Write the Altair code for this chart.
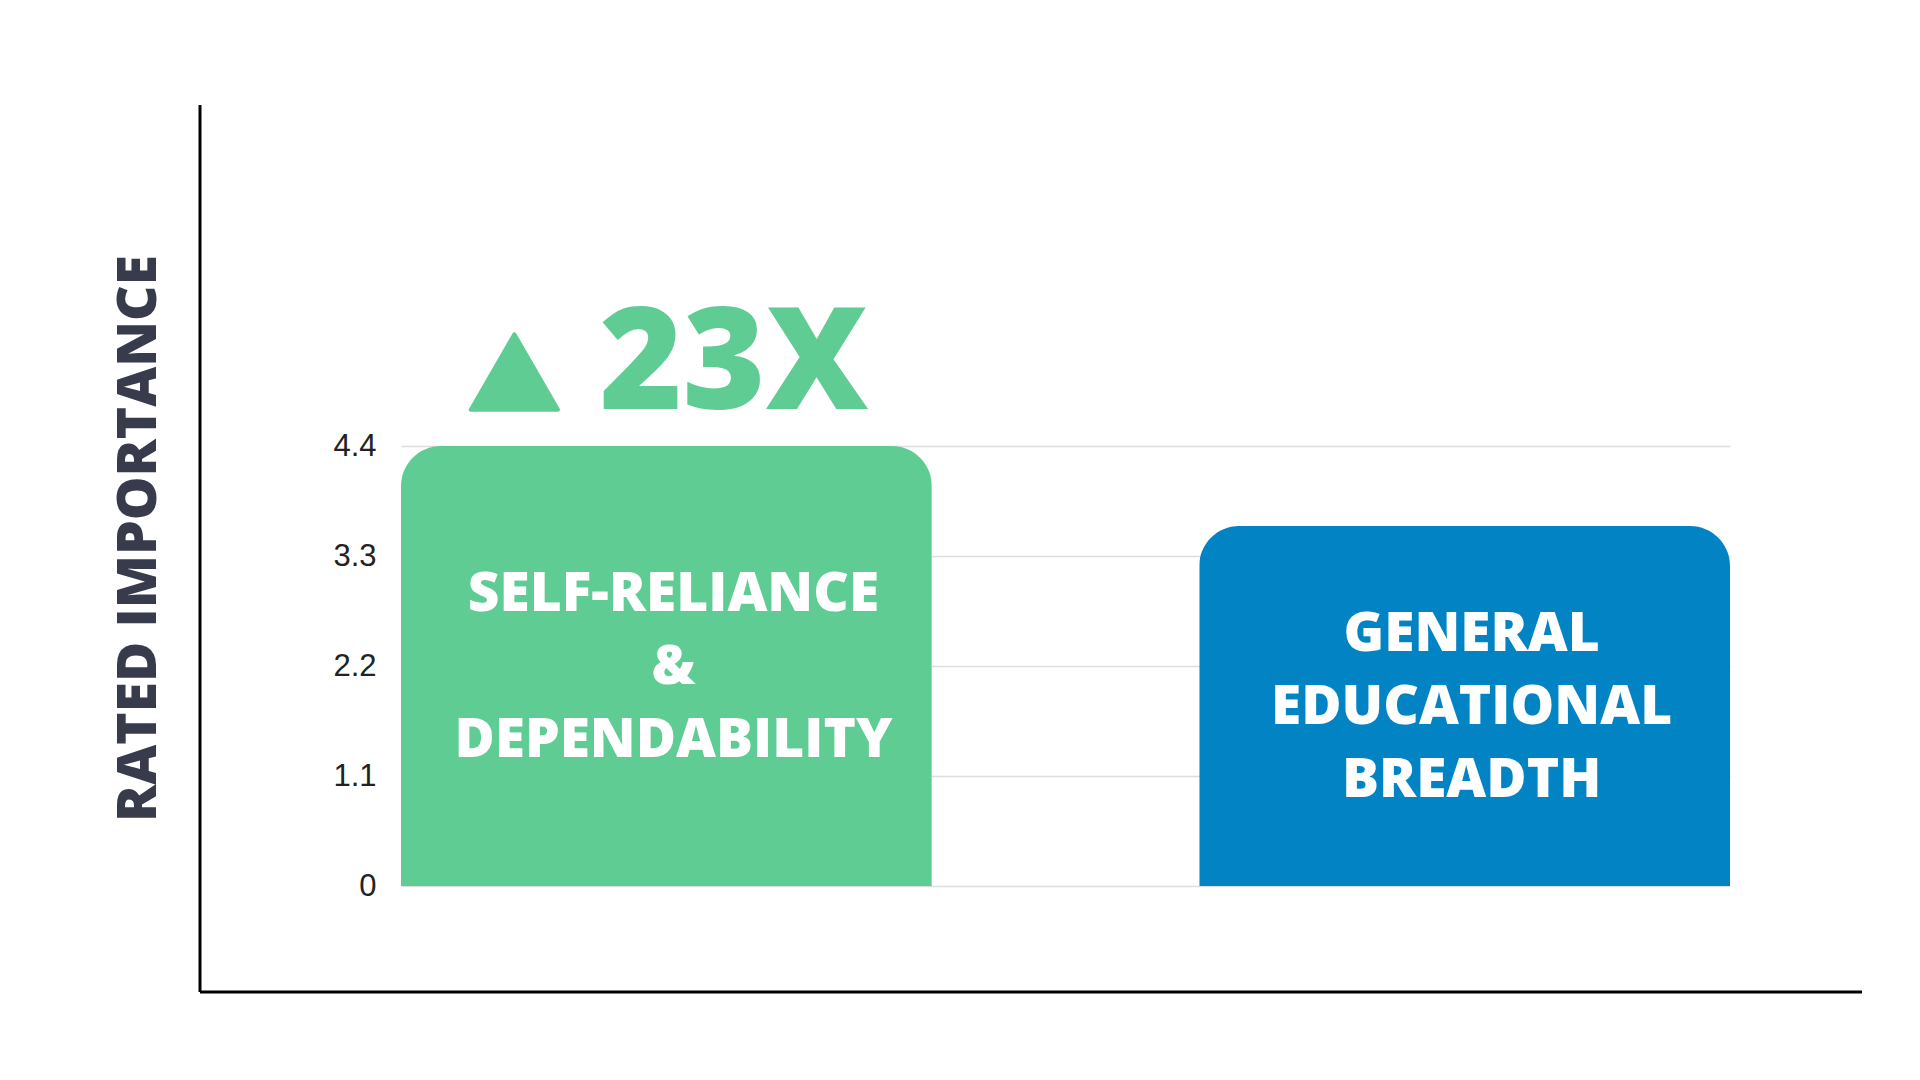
import altair as alt
import pandas as pd

categories = ["Self-Reliance & Dependability", "General Educational Breadth"]
values = [4.4, 3.6]
bar_labels = ["SELF-RELIANCE\n&\nDEPENDABILITY", "GENERAL\nEDUCATIONAL\nBREADTH"]
bar_colors = ["#5FCC94", "#0284C4"]
y_ticks = [0, 1.1, 2.2, 3.3, 4.4]
y_title = "RATED IMPORTANCE"
annotation_category = categories[0]
annotation_text = "23X"

df = pd.DataFrame({"category": categories, "value": values, "label": bar_labels})
ann = pd.DataFrame({"category": [annotation_category], "value": [values[0]], "text": [annotation_text]})

x_enc = alt.X("category:N", sort=categories, axis=None,
              scale=alt.Scale(paddingInner=0.335, paddingOuter=0))
y_scale = alt.Scale(domain=[0, 4.4], nice=False, zero=True)

bars = alt.Chart(df).mark_bar(cornerRadiusTopLeft=40, cornerRadiusTopRight=40).encode(
    x=x_enc,
    y=alt.Y("value:Q", scale=y_scale,
            axis=alt.Axis(values=y_ticks, format="~g", domain=False, ticks=False,
                          labelPadding=25, labelFontSize=31, labelColor="#222222",
                          labelFont="Liberation Sans", gridColor="#dddddd", gridWidth=1.5,
                          title=y_title, titleFont="Open Sans", titleFontWeight=800,
                          titleFontSize=55, titleColor="#373B4C", titleAngle=270,
                          titleAlign="center", titleBaseline="middle",
                          titleX=-263, titleY=92)),
    color=alt.Color("category:N", scale=alt.Scale(domain=categories, range=bar_colors), legend=None),
)

labels = alt.Chart(df).transform_calculate(mid="datum.value / 2").mark_text(
    font="Open Sans", fontWeight=800, fontSize=55, color="white",
    lineBreak="\n", lineHeight=73, align="center", baseline="middle",
    yOffset=-72, xOffset=7
).encode(
    x=alt.X("category:N", sort=categories),
    y=alt.Y("mid:Q"),
    text="label:N",
)

tri = alt.Chart(ann).mark_point(
    shape="triangle-up", filled=True, size=7600, color="#5FCC94",
    stroke="#5FCC94", strokeWidth=4, strokeJoin="round", opacity=1,
    xOffset=-152, yOffset=-74
).encode(x=alt.X("category:N", sort=categories), y=alt.Y("value:Q"))

ann_text = alt.Chart(ann).mark_text(
    font="Open Sans", fontWeight=800, fontSize=142, color="#5FCC94",
    align="left", baseline="alphabetic", xOffset=-67, yOffset=-37
).encode(x=alt.X("category:N", sort=categories), y=alt.Y("value:Q"), text="text:N")

frame_v = alt.Chart(ann).mark_rule(color="black", strokeWidth=3).encode(
    x=alt.value(-201), y=alt.value(-341), y2=alt.value(546))
frame_h = alt.Chart(ann).mark_rule(color="black", strokeWidth=3).encode(
    x=alt.value(-201), x2=alt.value(1461), y=alt.value(546))

chart = alt.layer(bars, labels, tri, ann_text, frame_v, frame_h).properties(
    width=1329, height=440,
    background="white",
    autosize=alt.AutoSizeParams(type="none"),
    padding={"left": 393, "top": 438, "right": 174, "bottom": 186},
).configure_view(stroke=None)

chart.save("out.html", embed_options={"renderer": "svg", "actions": False})
